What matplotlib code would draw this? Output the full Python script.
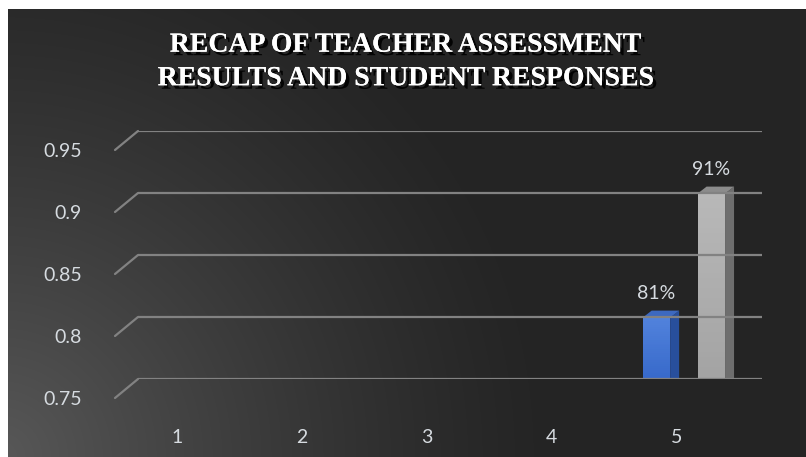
import numpy as np
import matplotlib
matplotlib.use("Agg")
import matplotlib.pyplot as plt
import matplotlib.patheffects as pe
from matplotlib.patches import Rectangle, ConnectionPatch, Ellipse
from matplotlib.transforms import ScaledTranslation

categories = ["1", "2", "3", "4", "5"]
teacher = [None, None, None, None, 0.81]   # blue series
student = [None, None, None, None, 0.91]   # gray series
bar_labels_t = ["", "", "", "", "81%"]
bar_labels_s = ["", "", "", "", "91%"]
yticks = [0.75, 0.8, 0.85, 0.9, 0.95]
ytick_labels = ["0.75", "0.8", "0.85", "0.9", "0.95"]
title = "RECAP OF TEACHER ASSESSMENT\nRESULTS AND STUDENT RESPONSES"

W, H, DPI = 806, 457, 100
fig = plt.figure(figsize=(W / DPI, H / DPI), dpi=DPI)

# dark background, lighter towards the bottom-left corner
bg = fig.add_axes([0, 0, 1, 1])
yy, xx = np.mgrid[0:H, 0:W]
d = np.hypot(xx - 0, yy - H) / 560.0
shade = 36 + 52 * np.clip(1 - d, 0, 1) ** 1.3
img = np.dstack([shade, shade, shade]) / 255.0
bg.imshow(img, extent=[0, W, 0, H], origin="upper", aspect="auto")
bg.set_xlim(0, W)
bg.set_ylim(0, H)
bg.axis("off")
# white margin on left and top
bg.add_patch(Rectangle((0, 0), 8, H, color="white", lw=0))
bg.add_patch(Rectangle((0, H - 9), W, 9, color="white", lw=0))

# back wall of the pseudo 3D plot
x0, x1 = 138, 762
ytop, ybot = 131, 379
ax = fig.add_axes([x0 / W, (H - ybot) / H, (x1 - x0) / W, (ybot - ytop) / H])
ax.set_xlim(0.5, 5.5)
ax.set_ylim(0.75, 0.95)
ax.patch.set_alpha(0)
ax.axis("off")

# front plane shifted left/down
fdx, fdy = -23, -19
axf = fig.add_axes([(x0 + fdx) / W, (H - ybot + fdy) / H, (x1 - x0) / W, (ybot - ytop) / H])
axf.set_xlim(0.5, 5.5)
axf.set_ylim(0.75, 0.95)
axf.patch.set_alpha(0)
for s in axf.spines.values():
    s.set_visible(False)
axf.set_xticks(range(1, 6))
axf.set_xticklabels(categories)
axf.set_yticks(yticks)
axf.set_yticklabels(ytick_labels)
axf.tick_params(length=0, colors="#d6dbe0", labelsize=14)
axf.tick_params(axis="y", pad=24)
axf.tick_params(axis="x", pad=22)
for lab in axf.get_xticklabels() + axf.get_yticklabels():
    lab.set_family("Lato")

grid_col = "#828282"
for y in yticks:
    ax.plot([0.5, 5.5], [y, y], color=grid_col, lw=1.6, solid_capstyle="butt")
    con = ConnectionPatch(xyA=(0.5, y), coordsA=axf.transData,
                          xyB=(0.5, y), coordsB=ax.transData,
                          color=grid_col, lw=1.6)
    fig.add_artist(con)

# bars placed between front and back plane
ppx = (x1 - x0) / 5.0
ppy = (ybot - ytop) / 0.2
f = 0.684
bar_tr = ax.transData + ScaledTranslation(fdx * f / DPI, fdy * f / DPI, fig.dpi_scale_trans)
ddx, ddy = 9 / ppx, 7 / ppy
bw = 0.22


def draw_bar(xc, v, front, side, top, label):
    xl, xr = xc - bw / 2, xc + bw / 2
    base = 0.75
    ax.add_patch(Ellipse((xc + 0.06, base - 0.004), bw * 1.5, 0.012,
                         color="black", alpha=0.35, lw=0, transform=bar_tr))
    ax.fill([xr, xr + ddx, xr + ddx, xr], [base, base + ddy, v + ddy, v],
            color=side, lw=0, transform=bar_tr)
    ax.fill([xl, xl + ddx, xr + ddx, xr], [v, v + ddy, v + ddy, v],
            color=top, lw=0, transform=bar_tr)
    # front face with a soft vertical gradient
    n = 40
    ys = np.linspace(base, v, n + 1)
    c0 = np.array(matplotlib.colors.to_rgb(front[0]))
    c1 = np.array(matplotlib.colors.to_rgb(front[1]))
    for i in range(n):
        t = i / (n - 1)
        ax.add_patch(Rectangle((xl, ys[i]), bw, ys[i + 1] - ys[i] + 1e-4,
                               color=c0 + (c1 - c0) * t, lw=0, transform=bar_tr))
    ax.annotate(label, (xc, v + ddy), xycoords=bar_tr,
                xytext=(0, 6), textcoords="offset points", ha="center", va="bottom",
                color="#d6dbe0", fontsize=14, family="Lato")


for i, cat in enumerate(categories):
    xc = i + 1
    if teacher[i] is not None:
        draw_bar(xc - bw, teacher[i], ("#3264c6", "#5182dc"), "#284f9c", "#3d69c0", bar_labels_t[i])
    if student[i] is not None:
        draw_bar(xc + bw, student[i], ("#a2a2a2", "#b8b8b8"), "#6e6e6e", "#8c8c8c", bar_labels_s[i])

fig.text(0.5025, 1 - 62 / H, title, ha="center", va="center", color="white",
         fontsize=20, fontweight="bold", family="Liberation Serif", linespacing=1.45,
         path_effects=[pe.withSimplePatchShadow(offset=(2.5, -2.5), shadow_rgbFace="black", alpha=0.9),
                       pe.Normal()])

fig.savefig("out.png", dpi=DPI)
